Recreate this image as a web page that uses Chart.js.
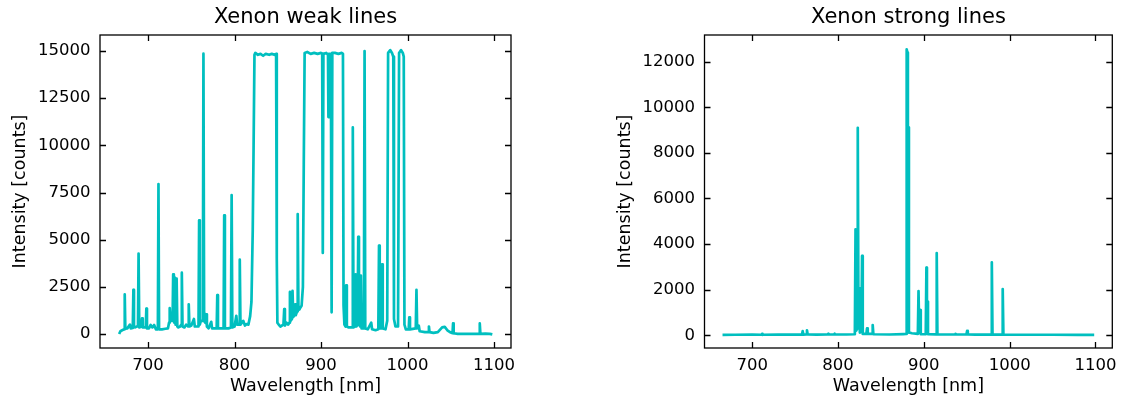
<!DOCTYPE html>
<html>
<head>
<meta charset="utf-8">
<script src="https://cdn.jsdelivr.net/npm/chart.js@4.4.0/dist/chart.umd.min.js"></script>
<style>
    body { margin: 0; background: #fff; }
    canvas { position: absolute; top: 0; }
    #weakChart { left: 0; }
    #strongChart { left: 562px; }
</style>
</head>
<body>
<canvas id="weakChart" width="560" height="403"></canvas>
<canvas id="strongChart" width="563" height="403"></canvas>
<script>
// wavelength ticks shared by both panels
const xTicks = [700, 800, 900, 1000, 1100];
const weakYTicks = [0, 2500, 5000, 7500, 10000, 12500, 15000];
const strongYTicks = [0, 2000, 4000, 6000, 8000, 10000, 12000];

// weak lines spectrum
const weakWavelength = [
    666.5, 668, 670, 672.3, 673, 673.7, 676, 679, 680, 682.3, 683, 683.7, 685, 687, 688.3, 689, 689.8,
    692.3, 693, 693.8, 697.3, 698, 698.7, 701, 703, 705, 707, 709, 711.3, 712, 712.7, 716, 720, 723,
    724.2, 725, 726, 728.3, 729, 729.8, 730.3, 731, 731.8, 732.3, 733, 733.8, 735, 737, 738.3, 739, 739.8,
    742, 744, 746.3, 747, 747.8, 750, 753, 754, 758.3, 759, 759.8, 761, 763.3, 764, 764.8, 766, 767, 768,
    770, 773, 774, 779.3, 780, 780.8, 784, 787.3, 788, 788.8, 793, 795.8, 796.6, 797.4, 800, 802, 803,
    805.3, 806, 806.8, 810, 812, 814, 816, 818, 819.5, 821, 822, 823, 824, 827, 830, 833, 836, 840, 843,
    846, 848, 848.8, 849.5, 851, 853, 856.5, 857.4, 858.2, 860, 862, 863.3, 864, 864.8, 866.3, 867, 867.8,
    869.3, 870, 870.8, 872.3, 873, 873.8, 875, 876, 877.5, 879, 880, 881, 884, 888, 892, 896, 900, 901.3,
    902, 902.7, 906, 908, 908.5, 909, 911.3, 912.2, 913, 916, 920, 924, 925.3, 926, 927, 928.3, 929, 929.8,
    932, 935.9, 936.7, 937.5, 939.2, 940, 940.8, 942.2, 943, 943.8, 945.2, 946, 946.8, 949.5, 950.3, 951.1,
    954, 958, 959, 963, 966.2, 967, 967.8, 969.7, 970.5, 971.3, 974.5, 976.5, 977.5, 980, 982, 983.5, 984.3,
    986, 989, 990.2, 992.5, 994.5, 995.6, 996.4, 998, 1001.3, 1002, 1002.8, 1009.5, 1010.3, 1011.1, 1013,
    1014, 1020, 1024, 1024.7, 1025.4, 1030, 1035, 1040, 1043, 1046, 1050, 1052, 1052.6, 1053.3, 1058, 1070,
    1082.8, 1083.5, 1084.2, 1090, 1095, 1098
];
const weakIntensity = [
    0, 150, 200, 250, 2100, 280, 300, 500, 300, 320, 2340, 400, 350, 400, 420, 4270, 350,
    400, 830, 350, 350, 1350, 300, 300, 480, 350, 480, 250, 250, 7950, 250, 250, 280, 300,
    600, 1370, 700, 700, 3160, 800, 600, 2990, 500, 600, 2940, 400, 350, 400, 500, 3250, 400,
    350, 500, 400, 1580, 400, 450, 800, 400, 400, 6030, 500, 700, 700, 14860, 700, 600, 1050, 400,
    300, 650, 300, 300, 2060, 300, 300, 300, 6290, 300, 300, 350, 7370, 350, 400, 970, 500,
    500, 3940, 500, 700, 450, 530, 500, 950, 1700, 5500, 10000, 14800, 14900, 14800, 14850, 14750, 14850, 14800, 14850,
    14800, 14850, 4000, 600, 500, 400, 500, 1320, 450, 600, 500, 600, 2230, 700, 800, 2290, 900,
    1000, 1580, 1000, 1200, 6360, 1500, 1300, 1400, 1500, 2500, 9000, 14900, 14950, 14850, 14900, 14850, 14900, 14850,
    4300, 14850, 14900, 14800, 11500, 14850, 14850, 1150, 14900, 14900, 14850, 14900, 14850, 1500, 500, 400, 2580, 400,
    350, 350, 10950, 350, 400, 3160, 400, 500, 5150, 500, 400, 3100, 300, 300, 15000, 300,
    250, 600, 250, 200, 250, 4690, 300, 300, 3690, 300, 250, 700, 14900, 15050, 14900, 14700, 800,
    400, 400, 14900, 15050, 14900, 14700, 500, 250, 250, 880, 250, 300, 2340, 300, 440,
    150, 100, 100, 400, 100, 60, 100, 350, 380, 200, 80, 50, 560, 40, 10, 10,
    10, 560, 10, 20, 10, -20
];

// strong lines spectrum
const strongWavelength = [
    665.4, 680, 700, 711, 711.5, 712, 730, 750, 758, 758.8, 759.6, 763, 763.8, 764.6, 775, 788, 788.8, 789.6,
    795.3, 796, 796.7, 810, 819.6, 820.4, 821.2, 822.3, 823, 823.8, 824.6, 825.4, 827.2, 828, 828.8, 833,
    833.8, 834.6, 839.6, 840.4, 841.2, 860, 876, 879.3, 880, 880.8, 881.4, 882, 882.6, 884, 886, 893,
    893.8, 894.6, 895.3, 895.8, 896.4, 902.2, 903, 903.6, 904.2, 904.8, 914.2, 915, 915.8, 925, 936.5, 937,
    937.5, 949.6, 950.4, 951.2, 960, 978.4, 979.2, 980, 991.1, 991.9, 992.7, 1010, 1030, 1050, 1080, 1098.5
];
const strongIntensity = [
    20, 25, 30, 25, 60, 25, 30, 30, 30, 180, 30, 35, 220, 35, 30, 35, 70, 35,
    35, 70, 35, 35, 45, 4650, 200, 300, 9100, 500, 2060, 120, 160, 3480, 60, 60,
    300, 60, 60, 450, 45, 35, 55, 60, 12540, 12400, 300, 9120, 120, 110, 90, 60,
    1940, 110, 110, 1100, 45, 45, 2970, 110, 1480, 45, 40, 3610, 40, 35, 35, 65,
    35, 35, 190, 35, 30, 30, 3200, 30, 30, 2030, 30, 25, 25, 25, 20, 20
];

const lineColor = '#00bfbf';
const fontFamily = "'DejaVu Sans', sans-serif";

// box around the plot and inward ticks on all four sides
const framePlugin = {
    id: 'frame',
    afterDraw(chart) {
        const { ctx, chartArea: a, scales: { x, y } } = chart;
        ctx.save();
        ctx.strokeStyle = '#000';
        ctx.lineWidth = 1.3;
        ctx.strokeRect(a.left, a.top, a.right - a.left, a.bottom - a.top);
        ctx.beginPath();
        x.ticks.forEach(t => {
            const px = Math.round(x.getPixelForValue(t.value)) + 0.5;
            ctx.moveTo(px, a.bottom); ctx.lineTo(px, a.bottom - 6);
            ctx.moveTo(px, a.top); ctx.lineTo(px, a.top + 6);
        });
        y.ticks.forEach(t => {
            const py = Math.round(y.getPixelForValue(t.value)) + 0.5;
            ctx.moveTo(a.left, py); ctx.lineTo(a.left + 6, py);
            ctx.moveTo(a.right, py); ctx.lineTo(a.right - 6, py);
        });
        ctx.stroke();
        ctx.restore();
    }
};

function makeChart(canvasId, title, wavelength, intensity, yTicks, yMin, yMax, padLeft, padRight) {
    const points = wavelength.map((w, i) => ({ x: w, y: intensity[i] }));
    return new Chart(document.getElementById(canvasId), {
        type: 'line',
        data: {
            datasets: [{
                data: points,
                borderColor: lineColor,
                borderWidth: 2.7,
                pointRadius: 0,
                tension: 0,
                borderJoinStyle: 'round',
                fill: false
            }]
        },
        options: {
            responsive: false,
            animation: false,
            devicePixelRatio: 1,
            layout: { padding: { left: padLeft, right: padRight, top: 0, bottom: 0 } },
            plugins: {
                legend: { display: false },
                tooltip: { enabled: false },
                title: {
                    display: true,
                    text: title,
                    fullSize: false,
                    color: '#000',
                    font: { family: fontFamily, size: 21, weight: 'normal' },
                    padding: { top: 5.4, bottom: 4.4 }
                }
            },
            scales: {
                x: {
                    type: 'linear',
                    min: 644.4,
                    max: 1119.6,
                    afterBuildTicks: s => { s.ticks = xTicks.map(v => ({ value: v })); },
                    afterFit: s => { s.height = 55; },
                    grid: { display: false, drawTicks: false },
                    border: { display: false },
                    ticks: {
                        color: '#000',
                        padding: 8,
                        maxRotation: 0,
                        font: { family: fontFamily, size: 16.5 },
                        callback: v => String(v)
                    },
                    title: {
                        display: true,
                        text: 'Wavelength [nm]',
                        color: '#000',
                        font: { family: fontFamily, size: 17.5 },
                        padding: { top: 0, bottom: 6 }
                    }
                },
                y: {
                    min: yMin,
                    max: yMax,
                    afterBuildTicks: s => { s.ticks = yTicks.map(v => ({ value: v })); },
                    afterFit: s => { s.width = 100; },
                    grid: { display: false, drawTicks: false },
                    border: { display: false },
                    ticks: {
                        color: '#000',
                        padding: 9.5,
                        font: { family: fontFamily, size: 16.5 },
                        callback: v => String(v)
                    },
                    title: {
                        display: true,
                        text: 'Intensity [counts]',
                        color: '#000',
                        font: { family: fontFamily, size: 17.5 },
                        padding: { top: 10, bottom: 0 }
                    }
                }
            }
        },
        plugins: [framePlugin]
    });
}

makeChart('weakChart', 'Xenon weak lines', weakWavelength, weakIntensity, weakYTicks, -740, 15850, 0, 49);
makeChart('strongChart', 'Xenon strong lines', strongWavelength, strongIntensity, strongYTicks, -557, 13170, 42.5, 9);
</script>
</body>
</html>
